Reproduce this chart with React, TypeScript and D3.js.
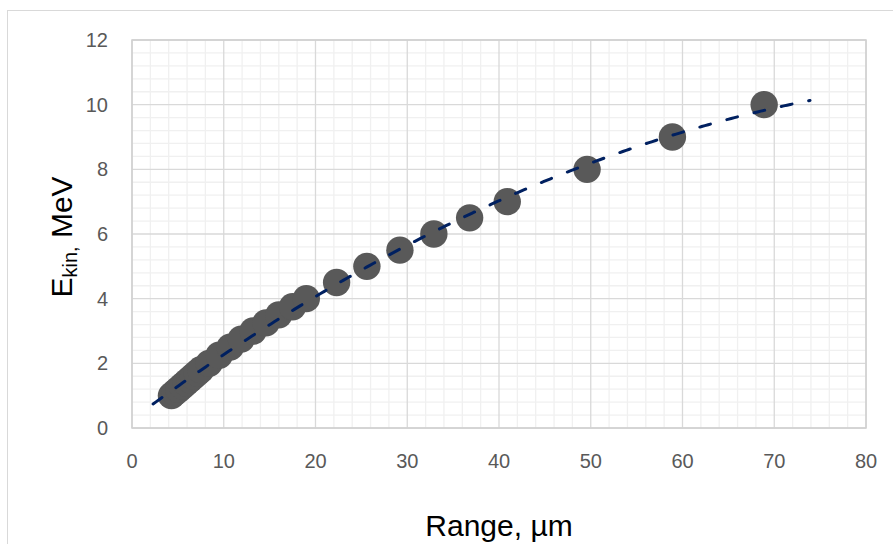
import React from "react";
import * as d3 from "d3";

const energyMeV = [1.0, 1.1, 1.2, 1.3, 1.4, 1.5, 1.6, 1.7, 1.8, 2.0, 2.25, 2.5, 2.75, 3.0, 3.25, 3.5, 3.75, 4.0, 4.5, 5.0, 5.5, 6.0, 6.5, 7.0, 8.0, 9.0, 10.0];
const rangeUm = [4.3, 4.7, 5.1, 5.5, 5.9, 6.3, 6.7, 7.1, 7.5, 8.4, 9.5, 10.7, 11.9, 13.2, 14.6, 16.0, 17.5, 19.0, 22.3, 25.6, 29.2, 32.9, 36.8, 40.9, 49.6, 58.9, 68.9];
const xTicks = [0, 10, 20, 30, 40, 50, 60, 70, 80];
const yTicks = [0, 2, 4, 6, 8, 10, 12];
const trendBackward = 2;
const trendForward = 5;

function polyFit2(xs: number[], ys: number[]) {
  // least squares quadratic (like a spreadsheet polynomial trendline)
  let s = [0, 0, 0, 0, 0];
  let t = [0, 0, 0];
  for (let i = 0; i < xs.length; i++) {
    const x = xs[i], y = ys[i];
    let p = 1;
    for (let k = 0; k < 5; k++) { s[k] += p; if (k < 3) t[k] += p * y; p *= x; }
  }
  const A = [
    [s[0], s[1], s[2], t[0]],
    [s[1], s[2], s[3], t[1]],
    [s[2], s[3], s[4], t[2]],
  ];
  for (let i = 0; i < 3; i++) {
    for (let j = i + 1; j < 3; j++) {
      const f = A[j][i] / A[i][i];
      for (let k = i; k < 4; k++) A[j][k] -= f * A[i][k];
    }
  }
  const c = [0, 0, 0];
  for (let i = 2; i >= 0; i--) {
    let v = A[i][3];
    for (let k = i + 1; k < 3; k++) v -= A[i][k] * c[k];
    c[i] = v / A[i][i];
  }
  return c;
}

export default function App() {
  const W = 893, H = 544;
  const L = 132, R = 866, T = 40, B = 428;
  const x = d3.scaleLinear().domain([0, 80]).range([L, R]);
  const y = d3.scaleLinear().domain([0, 12]).range([B, T]);

  const minorX = d3.range(0, 80.001, 2).filter((v) => v % 10 !== 0);
  const minorY = d3.range(0, 12.001, 0.4).filter((v) => Math.abs(v / 2 - Math.round(v / 2)) > 1e-6);

  const coef = polyFit2(rangeUm, energyMeV);
  const x0 = d3.min(rangeUm)! - trendBackward;
  const x1 = d3.max(rangeUm)! + trendForward;
  const trendPts = d3.range(x0, x1 + 1e-9, (x1 - x0) / 200).map((v) => [v, coef[0] + coef[1] * v + coef[2] * v * v] as [number, number]);
  const line = d3.line<[number, number]>().x((d) => x(d[0])).y((d) => y(d[1]));

  const tickFont = "'Liberation Sans', Arial, sans-serif";

  return (
    <svg width={W} height={H} style={{ position: "absolute", left: 0, top: 0, background: "#fff" }}>
      <rect x={7.5} y={10.5} width={W + 20} height={H + 20} fill="#fff" stroke="#d9d9d9" strokeWidth={1} />
      {minorX.map((v) => (
        <line key={"mx" + v} x1={x(v)} x2={x(v)} y1={T} y2={B} stroke="#f0f0f0" strokeWidth={1.3} />
      ))}
      {minorY.map((v) => (
        <line key={"my" + v} x1={L} x2={R} y1={y(v)} y2={y(v)} stroke="#f0f0f0" strokeWidth={1.3} />
      ))}
      {xTicks.map((v) => (
        <line key={"gx" + v} x1={x(v)} x2={x(v)} y1={T} y2={B} stroke="#d9d9d9" strokeWidth={1.3} />
      ))}
      {yTicks.map((v) => (
        <line key={"gy" + v} x1={L} x2={R} y1={y(v)} y2={y(v)} stroke="#d9d9d9" strokeWidth={1.3} />
      ))}
      <rect x={L} y={T} width={R - L} height={B - T} fill="none" stroke="#d0d0d0" strokeWidth={1.5} />

      {rangeUm.map((r, i) => (
        <circle key={"p" + i} cx={x(r)} cy={y(energyMeV[i])} r={13.7} fill="#595959" />
      ))}
      <path d={line(trendPts) || ""} fill="none" stroke="#002060" strokeWidth={3} strokeDasharray="11 17" strokeLinecap="round" />

      {yTicks.map((v) => (
        <text key={"yl" + v} x={108} y={y(v)} dy="0.35em" textAnchor="end" fontFamily={tickFont} fontSize={20} fill="#595959">
          {v}
        </text>
      ))}
      {xTicks.map((v) => (
        <text key={"xl" + v} x={x(v)} y={461} dy="0.35em" textAnchor="middle" fontFamily={tickFont} fontSize={20} fill="#595959">
          {v}
        </text>
      ))}
      <text x={(L + R) / 2} y={536} textAnchor="middle" fontFamily={tickFont} fontSize={30} fill="#000">
        Range, µm
      </text>
      <text transform={`translate(72,237) rotate(-90)`} textAnchor="middle" fontFamily={tickFont} fontSize={30} fill="#000">
        E<tspan fontSize={20} dy={5}>kin,</tspan>
        <tspan dy={-5}> MeV</tspan>
      </text>
    </svg>
  );
}
